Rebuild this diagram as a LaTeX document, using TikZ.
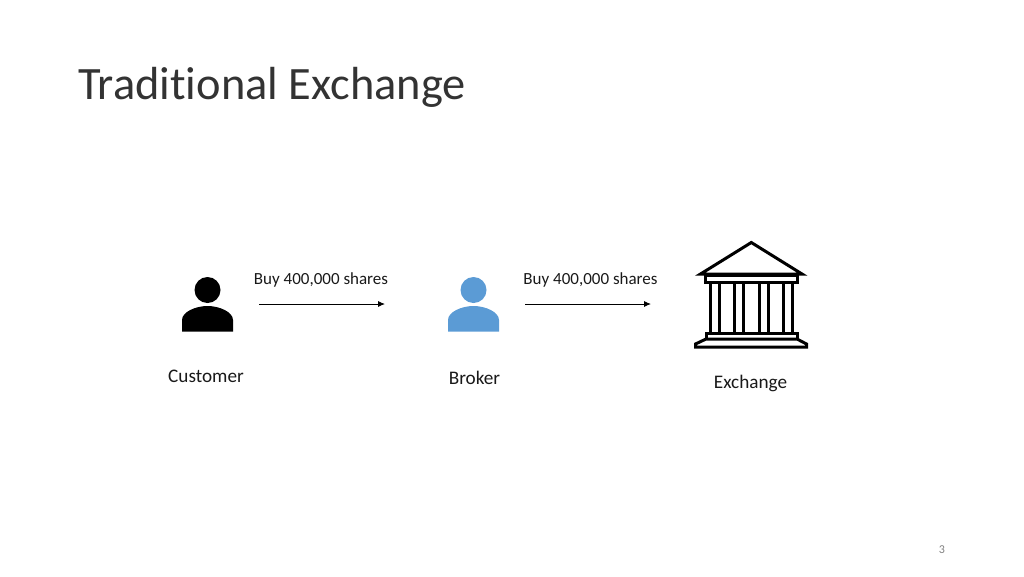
\documentclass[tikz,border=0pt]{standalone}
\usepackage{fontspec}
\setmainfont{Carlito}[Ligatures=NoCommon]
\usetikzlibrary{arrows.meta}
\definecolor{brokerblue}{HTML}{5B9BD5}
\tikzset{
 lbl/.style={inner sep=0pt,anchor=base,font=\fontsize{19.2}{22}\selectfont,text=black!90},
 small/.style={inner sep=0pt,anchor=base,font=\fontsize{17}{20}\selectfont,text=black!90},
 flow/.style={draw=black,line width=0.9pt,-{Latex[length=7pt,width=6pt]}},
 bank/.style={draw=black,line width=3pt,fill=white,miter limit=10}
}
\newcommand{\personicon}[2]{%
 \fill[#2] (#1,290) circle (13);
 \fill[#2] (#1-25.5,331.5) -- (#1-25.5,320) .. controls (#1-25.5,312) and (#1-12,306) .. (#1,306) .. controls (#1+12,306) and (#1+25.5,312) .. (#1+25.5,320) -- (#1+25.5,331.5) -- cycle;
}
\begin{document}
\begin{tikzpicture}[x=1pt,y=-1pt]
\useasboundingbox (0,0) rectangle (1024,576);
\node[inner sep=0pt,anchor=base west,font=\fontsize{46.4}{50}\selectfont,text=black!80] (title) at (78,99) {Traditional Exchange};
\personicon{207.5}{black}
\personicon{473.5}{brokerblue}
% bank
\draw[bank,line join=miter] (751.3,242.5) -- (700.5,274) -- (802,274) -- cycle;
\draw[bank] (705.5,275) rectangle (797,282.5);
\foreach \c in {710,719.3,734.3,743.7,759,768.3,783.3,792.7}{\draw[draw=black,line width=3pt] (\c,283) -- (\c,332);}
\draw[bank] (706,333) rectangle (797,339);
\draw[bank] (706,339) -- (695.5,344) -- (695.5,347) -- (806.5,347) -- (806.5,344) -- (797,339) -- cycle;
\coordinate (a1) at (259,304);
\coordinate (a2) at (385,304);
\coordinate (b1) at (525,304);
\coordinate (b2) at (651,304);
\draw[flow] (a1) -- (a2);
\draw[flow] (b1) -- (b2);
\node[small] (l1) at (321,284) {Buy 400,000 shares};
\node[small] (l2) at (590.5,284) {Buy 400,000 shares};
\node[lbl] (c) at (206,382) {Customer};
\node[lbl] (b) at (474.5,384) {Broker};
\node[lbl] (e) at (750.5,388) {Exchange};
\node[inner sep=0pt,anchor=base,font=\fontsize{12}{14}\selectfont,text=black!50] (n) at (942,553.5) {3};
\end{tikzpicture}
\end{document}
